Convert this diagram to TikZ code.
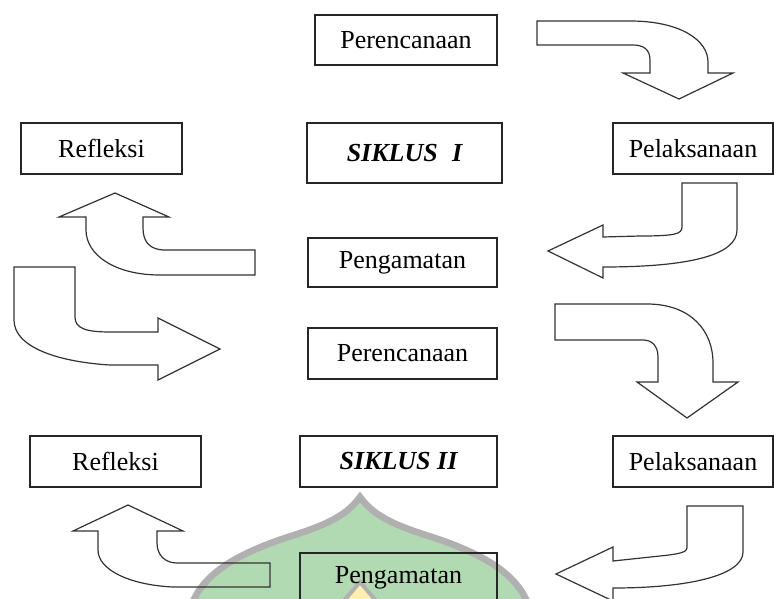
\documentclass[tikz,border=0pt]{standalone}
\usepackage{fontspec}
\setmainfont{Liberation Serif}
\usepackage{tikz}
\usetikzlibrary{positioning}
\definecolor{hijaulogo}{RGB}{178,218,178}
\definecolor{abulogo}{RGB}{176,176,176}
\definecolor{kuninglogo}{RGB}{255,240,175}

\begin{document}
\begin{tikzpicture}[
  x=0.75pt, y=-0.75pt,
  kotak/.style={draw=black!85, line width=0.8pt, inner sep=0pt, font=\fontsize{19.5}{22}\selectfont},
  blokpanah/.style={draw=black!80, line width=0.9pt, line join=miter},
  siklus/.style={font=\fontsize{19.5}{22}\selectfont\bfseries\itshape}
]
  \useasboundingbox (0,0) rectangle (774,599);
  % Logo (latar)
  \fill[hijaulogo, draw=abulogo, line width=5pt]
    (360,497) .. controls (345,518) and (320,527) .. (285,538)
    .. controls (235,555) and (200,575) .. (190,610) -- (530,610)
    .. controls (520,575) and (485,555) .. (435,538)
    .. controls (400,527) and (375,518) .. (360,497) -- cycle;
  \fill[kuninglogo, draw=abulogo, line width=3pt] (336,610) -- (360,582) -- (384,610) -- cycle;
  % Siklus I
  \node[kotak, minimum width=136.5pt, minimum height=37.5pt] (per1) at (406,40) {Perencanaan};
  \node[kotak, minimum width=120.75pt, minimum height=38.25pt] (ref1) at (101.5,148.5) {Refleksi};
  \node[kotak, siklus, minimum width=146.25pt, minimum height=45pt] (sik1) at (404.5,153) {SIKLUS\hspace{0.55em}I};
  \node[kotak, minimum width=120pt, minimum height=38.25pt] (pel1) at (693,148.5) {Pelaksanaan};
  \node[kotak, minimum width=141.75pt, minimum height=36.75pt] (pen1) at (402.5,262.5) {Pengamatan};
  % Siklus II
  \node[kotak, minimum width=141.75pt, minimum height=38.25pt] (per2) at (402.5,353.5) {Perencanaan};
  \node[kotak, minimum width=128.25pt, minimum height=38.25pt] (ref2) at (115.5,461.5) {Refleksi};
  \node[kotak, siklus, minimum width=147.75pt, minimum height=38.25pt] (sik2) at (398.5,461.5) {SIKLUS II};
  \node[kotak, minimum width=120pt, minimum height=38.25pt] (pel2) at (693,461.5) {Pelaksanaan};
  \node[kotak, minimum width=147.75pt, minimum height=37.5pt] (pen2) at (398.5,578) {Pengamatan};
  % Panah siklus I
  \draw[blokpanah] (537,21) -- (630,21) .. controls (680,21) and (708,40) .. (708,62) -- (708,73)
    -- (733,73) -- (679,99) -- (623,73) -- (650,73) -- (650,60)
    .. controls (650,50) and (644,45) .. (633,45) -- (537,45) -- cycle;
  \draw[blokpanah] (682,183) -- (737,183) -- (737,230) .. controls (737,255) and (690,267) .. (603,267)
    -- (603,278) -- (548,251) -- (603,225) -- (603,237) -- (640,236)
    .. controls (675,236) and (682,234) .. (682,227) -- cycle;
  \draw[blokpanah] (255,250) -- (255,275) -- (160,275) .. controls (115,275) and (86,255) .. (86,230)
    -- (86,217) -- (59,217) -- (115,193) -- (169,217) -- (143,217) -- (143,228)
    .. controls (143,242) and (150,250) .. (165,250) -- cycle;
  \draw[blokpanah] (14,267) -- (75,267) -- (75,317) .. controls (75,328) and (85,332) .. (110,332)
    -- (158,332) -- (158,318) -- (220,349) -- (158,380) -- (158,365) -- (110,365)
    .. controls (60,362) and (14,348) .. (14,320) -- cycle;
  % Panah siklus II
  \draw[blokpanah] (555,304) -- (647,304) .. controls (690,304) and (713,330) .. (713,363) -- (713,382)
    -- (738,382) -- (687,418) -- (637,382) -- (658,382) -- (658,357)
    .. controls (658,346) and (652,340) .. (643,340) -- (555,340) -- cycle;
  \draw[blokpanah] (687,506) -- (743,506) -- (743,552) .. controls (743,575) and (690,588) .. (613,588)
    -- (613,601) -- (556,574) -- (613,547) -- (613,561) -- (660,556)
    .. controls (680,554) and (687,552) .. (687,548) -- cycle;
  \draw[blokpanah] (270,563) -- (270,587) -- (173,587) .. controls (130,585) and (98,570) .. (98,550)
    -- (98,531) -- (73,531) -- (128,505) -- (183,531) -- (157,531) -- (157,543)
    .. controls (157,555) and (165,563) .. (177,563) -- cycle;
\end{tikzpicture}
\end{document}
